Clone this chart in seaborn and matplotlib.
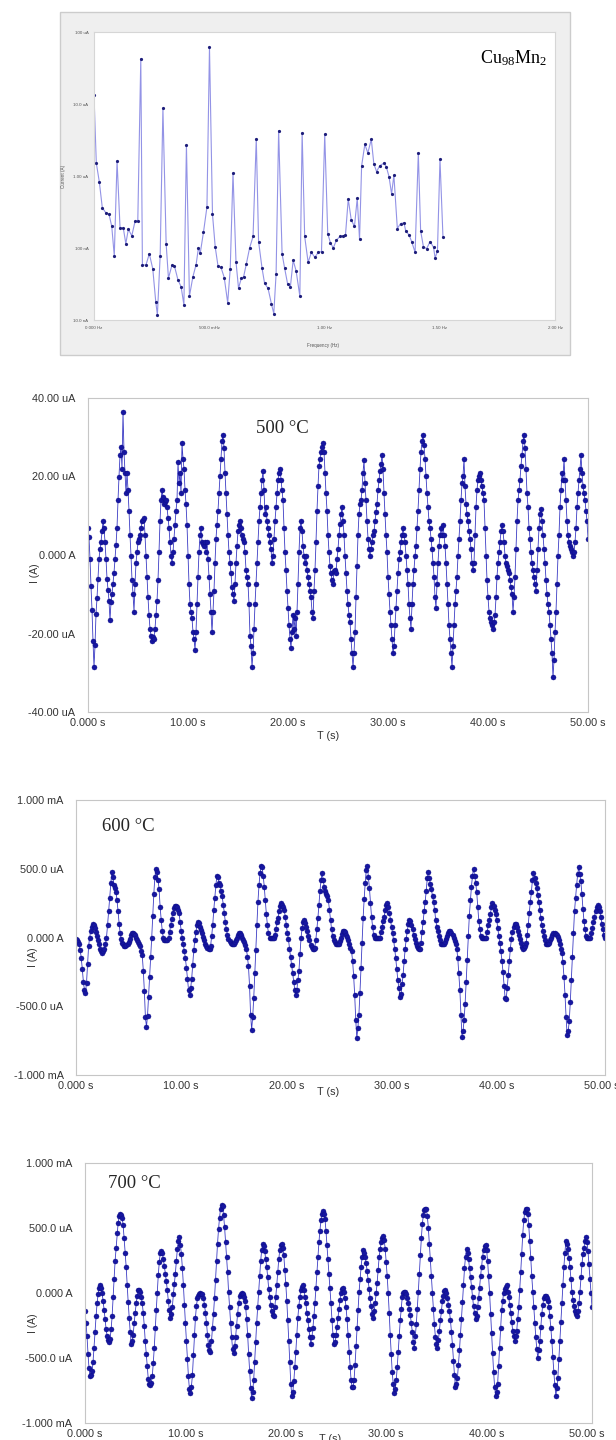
import numpy as np
import matplotlib
matplotlib.use("Agg")
import matplotlib.pyplot as plt
from matplotlib.patches import Rectangle
from matplotlib.ticker import FixedLocator, LogLocator, NullFormatter, MultipleLocator
import seaborn as sns

sns.set_style("white")
plt.rcParams["font.family"] = ["Liberation Sans", "DejaVu Sans"]
plt.rcParams["mathtext.fontset"] = "custom"
plt.rcParams["mathtext.rm"] = "Liberation Serif"
plt.rcParams["mathtext.it"] = "Liberation Serif:italic"

# ---------------- spectrum of the Cu98Mn2 current ----------------
spectrum_freq_hz = [
    0.000, 0.010, 0.023, 0.036, 0.051, 0.065, 0.077, 0.088, 0.100, 0.113,
    0.127, 0.138, 0.149, 0.164, 0.178, 0.190, 0.203, 0.210, 0.225, 0.240,
    0.255, 0.268, 0.275, 0.287, 0.299, 0.313, 0.323, 0.338, 0.349, 0.364,
    0.378, 0.390, 0.401, 0.414, 0.429, 0.443, 0.453, 0.461, 0.475, 0.490,
    0.501, 0.514, 0.526, 0.538, 0.551, 0.565, 0.580, 0.591, 0.603, 0.616,
    0.627, 0.639, 0.649, 0.661, 0.675, 0.690, 0.704, 0.714, 0.729, 0.740,
    0.755, 0.770, 0.780, 0.790, 0.801, 0.816, 0.827, 0.840, 0.852, 0.864,
    0.877, 0.893, 0.903, 0.914, 0.929, 0.943, 0.958, 0.973, 0.987, 1.001,
    1.014, 1.026, 1.038, 1.052, 1.067, 1.080, 1.091, 1.103, 1.116, 1.130,
    1.142, 1.152, 1.161, 1.175, 1.188, 1.203, 1.214, 1.226, 1.239, 1.258,
    1.268, 1.280, 1.291, 1.301, 1.316, 1.330, 1.345, 1.352, 1.367, 1.378,
    1.393, 1.407, 1.417, 1.429, 1.443, 1.458, 1.473, 1.480, 1.490, 1.501, 1.514,
]
# log10 of the current amplitude in amperes
spectrum_log10_amp = [
    -4.875, -5.82, -6.08, -6.44, -6.51, -6.53, -6.70, -7.11, -5.79, -6.72,
    -6.72, -6.94, -6.74, -6.83, -6.63, -6.62, -4.37, -7.23, -7.24, -7.08,
    -7.29, -7.75, -7.93, -7.11, -5.06, -6.94, -7.42, -7.24, -7.25, -7.44,
    -7.54, -7.79, -5.57, -7.67, -7.40, -7.23, -7.00, -7.07, -6.78, -6.43,
    -4.21, -6.53, -6.99, -7.25, -7.27, -7.41, -7.76, -7.29, -5.96, -7.19,
    -7.56, -7.42, -7.40, -7.22, -7.00, -6.84, -5.48, -6.91, -7.28, -7.49,
    -7.56, -7.78, -7.91, -7.36, -5.37, -7.08, -7.28, -7.50, -7.54, -7.17,
    -7.32, -7.67, -5.40, -6.84, -7.20, -7.06, -7.13, -7.06, -7.05, -5.42,
    -6.80, -6.93, -7.00, -6.89, -6.84, -6.83, -6.82, -6.32, -6.61, -6.70,
    -6.31, -6.88, -5.86, -5.56, -5.68, -5.49, -5.83, -5.94, -5.86, -5.82,
    -5.87, -6.01, -6.25, -5.99, -6.73, -6.66, -6.65, -6.76, -6.82, -6.91,
    -7.06, -5.68, -6.76, -6.98, -7.01, -6.91, -6.99, -7.14, -7.04, -5.77, -6.85,
]

# ---------------- current vs time, sampled every 0.1 s ----------------
SAMPLE_PERIOD_S = 0.1

# 500 °C, values in uA
current_500C_uA = [
    6.9, 4.5, -1.0, -8.0, -14.0, -22.0, -28.5, -23.0, -15.0, -11.0,
    -6.0, -1.0, 1.5, 3.3, 6.0, 8.6, 6.9, 3.3, -1.0, -6.0,
    -9.0, -11.7, -16.6, -12.0, -10.0, -7.3, -4.5, -1.0, 2.5, 6.9,
    13.9, 20.0, 25.4, 27.6, 21.9, 36.5, 26.3, 21.0, 15.7, 21.0,
    16.6, 11.3, 5.1, -0.2, -6.4, -9.9, -14.4, -7.3, -2.0, 0.7,
    3.3, 4.2, 5.1, 6.9, 8.6, 9.0, 9.5, 5.1, -0.2, -5.5,
    -10.8, -15.3, -18.8, -20.6, -21.9, -21.0, -21.4, -18.8, -15.3, -11.7,
    -6.4, 0.7, 8.6, 13.9, 16.6, 14.8, 13.0, 13.5, 13.9, 12.2,
    9.5, 6.9, 3.3, -0.2, -2.0, 0.7, 4.2, 7.7, 11.3, 13.9,
    23.7, 18.3, 21.0, 15.7, 28.5, 24.5, 21.9, 16.6, 13.0, 7.7,
    -0.2, -7.3, -12.6, -14.4, -16.1, -19.7, -21.4, -24.1, -19.7, -12.6,
    -5.5, 0.7, 5.1, 6.9, 3.3, 2.8, 2.4, 3.3, 0.7, 3.3,
    -1.1, -5.5, -9.9, -14.4, -19.7, -14.4, -9.1, -2.0, 4.2, 7.7,
    11.3, 15.7, 20.1, 24.5, 29.0, 30.7, 27.2, 21.0, 15.7, 10.4,
    5.1, 0.7, -2.0, -4.6, -8.2, -10.0, -11.7, -7.3, -2.0, 2.4,
    6.0, 7.7, 8.6, 6.9, 5.1, 4.2, 3.3, 0.7, -3.8, -5.5,
    -7.3, -12.6, -20.6, -23.2, -28.5, -25.0, -18.8, -12.6, -7.3, -2.0,
    3.3, 8.6, 12.2, 15.7, 19.2, 21.4, 16.6, 10.4, 12.2, 8.6,
    6.9, 5.1, 3.3, 1.5, -2.0, -0.2, 4.2, 8.6, 12.2, 15.7,
    19.2, 21.0, 21.9, 19.2, 16.6, 13.9, 6.9, 0.7, -3.8, -9.1,
    -13.5, -17.9, -21.4, -23.7, -19.7, -15.3, -18.8, -16.1, -20.6, -14.4,
    -7.3, 0.7, 6.9, 8.6, 6.0, 2.4, -0.2, -2.0, -0.2, -3.8,
    -5.5, -7.3, -9.1, -10.8, -14.4, -16.1, -9.1, -3.8, 3.3, 11.3,
    17.5, 22.8, 24.5, 26.3, 27.6, 28.5, 26.3, 21.0, 15.7, 11.3,
    5.1, 0.7, -2.9, -4.6, -6.4, -7.3, -4.0, -3.8, -4.6, -1.0,
    1.5, 5.0, 8.0, 10.4, 12.2, 8.6, 5.1, -0.2, -4.6, -9.1,
    -12.6, -15.3, -17.0, -21.4, -25.0, -28.5, -25.0, -19.7, -10.8, -2.9,
    5.1, 10.4, 13.0, 13.9, 16.6, 21.0, 24.1, 18.3, 13.9, 8.6,
    4.2, 1.5, -0.2, 1.5, 3.3, 5.1, 6.0, 8.6, 11.0, 13.0,
    16.6, 19.0, 21.5, 23.2, 25.4, 21.9, 15.7, 10.4, 5.1, 0.7,
    -5.5, -9.9, -14.4, -17.9, -21.4, -25.0, -23.2, -17.9, -13.5, -9.1,
    -4.6, -1.1, 0.7, 3.3, 5.1, 6.9, 5.1, 3.3, -0.2, -3.8,
    -7.3, -12.6, -16.1, -18.8, -12.6, -7.3, -3.8, -0.2, 2.4, 6.9,
    11.3, 16.6, 21.9, 26.3, 29.0, 30.7, 28.1, 24.5, 20.1, 15.7,
    12.2, 8.6, 6.9, 4.2, 1.5, -2.0, -5.5, -10.8, -13.5, -7.3,
    -2.0, 2.4, 5.1, 6.9, 5.1, 7.7, 5.1, 2.4, -2.0, -7.3,
    -12.6, -17.9, -21.4, -25.0, -28.5, -23.2, -17.9, -12.6, -9.1, -5.5,
    -0.2, 4.2, 8.6, 13.9, 18.3, 20.1, 24.5, 17.5, 13.0, 10.4,
    8.6, 6.0, 4.2, 1.5, -2.0, -3.8, -2.0, 5.1, 12.2, 16.6,
    19.2, 20.1, 21.0, 19.2, 17.5, 15.7, 13.9, 6.9, -0.2, -6.4,
    -10.8, -14.4, -16.1, -17.0, -17.9, -18.8, -17.0, -15.3, -10.8, -5.5,
    -2.0, 0.7, 3.3, 6.0, 7.7, 6.0, 3.3, -0.2, -2.0, -2.9,
    -3.8, -4.6, -6.4, -8.2, -9.9, -14.4, -10.8, -5.5, 1.5, 8.6,
    13.9, 16.6, 19.2, 22.8, 25.4, 29.0, 30.7, 27.2, 21.9, 15.7,
    12.2, 6.9, 4.2, 0.7, -2.0, -3.8, -5.5, -7.3, -9.1, -3.8,
    1.5, 6.9, 10.4, 11.7, 8.6, 5.1, 1.5, -2.0, -6.4, -9.9,
    -12.6, -14.4, -17.9, -21.4, -25.0, -31.2, -26.7, -19.7, -14.4, -7.3,
    -0.2, 5.1, 12.2, 16.6, 21.0, 19.2, 24.5, 19.2, 13.9, 8.6,
    5.1, 3.3, 2.4, 1.5, 0.7, -0.2, 0.7, 3.3, 6.9, 12.2,
    15.7, 19.2, 21.9, 25.4, 21.0, 17.5, 15.7, 13.9, 11.3, 8.6,
    4.2,
]

# 600 °C, values in uA
current_600C_uA = [
    -10, -20, -30, -50, -90, -150, -230, -320, -380, -400,
    -330, -190, -60, 0, 50, 80, 95, 90, 70, 40,
    10, -20, -50, -80, -100, -110, -100, -80, -50, 0,
    90, 190, 290, 400, 480, 440, 380, 360, 330, 270,
    190, 100, 30, -10, -40, -50, -60, -60, -55, -45,
    -30, -10, 15, 35, 35, 25, 15, 0, -15, -30,
    -45, -65, -95, -130, -240, -390, -580, -650, -570, -430,
    -290, -140, 0, 160, 320, 440, 500, 480, 420, 350,
    220, 130, 50, 0, -15, -20, -20, -15, -5, 40,
    90, 135, 180, 215, 230, 230, 220, 200, 175, 110,
    50, 0, -50, -95, -150, -220, -300, -380, -420, -370,
    -300, -200, -90, -20, 40, 90, 115, 105, 80, 55,
    30, 5, -20, -45, -60, -75, -85, -85, -60, 10,
    90, 200, 290, 380, 450, 440, 400, 380, 340, 300,
    240, 180, 110, 60, 20, -10, -25, -40, -50, -50,
    -45, -30, -20, 0, 20, 35, 35, 20, 0, -20,
    -35, -55, -80, -140, -210, -350, -560, -670, -580, -440,
    -260, -90, 90, 260, 380, 470, 520, 510, 450, 370,
    270, 170, 90, 30, 0, -5, -5, 0, 0, 20,
    60, 110, 140, 190, 230, 250, 240, 220, 200, 150,
    90, 30, -10, -80, -140, -200, -260, -320, -380, -420,
    -380, -310, -240, -120, 0, 70, 115, 125, 105, 75,
    50, 10, -20, -55, -70, -80, -85, -75, -20, 60,
    140, 240, 340, 420, 470, 420, 370, 340, 320, 300,
    270, 200, 130, 60, 10, -15, -35, -45, -50, -50,
    -45, -25, 0, 25, 45, 50, 40, 20, 5, -20,
    -50, -75, -100, -170, -280, -420, -600, -730, -660, -560,
    -400, -220, -40, 140, 280, 400, 490, 520, 440, 360,
    250, 150, 80, 20, 0, -5, -5, -5, -5, 0,
    40, 80, 120, 150, 200, 240, 250, 220, 180, 130,
    80, 30, -20, -80, -150, -230, -310, -370, -430, -410,
    -340, -270, -170, -80, -10, 50, 95, 125, 120, 90,
    60, 20, -10, -40, -60, -75, -80, -85, -40, 40,
    110, 190, 260, 340, 430, 480, 430, 390, 350, 300,
    260, 200, 130, 80, 50, 10, -20, -45, -50, -50,
    -45, -30, -10, 10, 30, 45, 45, 30, 15, 0,
    -25, -50, -80, -150, -260, -380, -560, -720, -680, -600,
    -480, -320, -160, 10, 160, 270, 370, 450, 500, 450,
    400, 330, 220, 120, 60, 10, 0, -5, -5, -5,
    -5, 40, 90, 130, 170, 220, 250, 230, 200, 170,
    130, 70, 10, -40, -100, -170, -250, -350, -440, -450,
    -370, -270, -170, -80, -10, 40, 80, 100, 100, 80,
    50, 20, -10, -40, -70, -85, -75, -60, -40, 20,
    90, 180, 260, 330, 420, 470, 430, 400, 360, 310,
    260, 200, 140, 90, 50, 10, -20, -45, -50, -45,
    -40, -20, 0, 20, 35, 35, 25, 15, 5, -20,
    -50, -80, -110, -180, -290, -420, -580, -710, -680, -610,
    -470, -310, -140, 30, 190, 290, 380, 460, 510, 460,
    410, 320, 210, 120, 60, 10, 0, 0, 0, 0,
    30, 70, 110, 150, 190, 225, 240, 220, 190, 150,
    100, 60, 20, 0,
]

# 700 °C, values in uA
current_700C_uA = [
    -140, -230, -330, -470, -580, -640, -630, -600, -530, -420,
    -300, -180, -80, -10, 40, 60, 40, 0, -60, -130,
    -200, -280, -330, -360, -380, -350, -280, -180, -30, 110,
    250, 350, 460, 540, 590, 610, 600, 580, 520, 420,
    310, 200, 60, -70, -190, -300, -390, -370, -320, -230,
    -150, -80, -20, 20, 20, 10, -30, -80, -150, -250,
    -370, -470, -560, -660, -700, -710, -690, -640, -540, -420,
    -270, -130, 0, 140, 240, 310, 320, 310, 260, 210,
    150, 90, 20, -60, -130, -190, -160, -110, -10, 70,
    150, 250, 340, 400, 430, 370, 300, 190, 60, -90,
    -230, -370, -510, -640, -740, -770, -720, -630, -480, -320,
    -190, -100, -40, -20, -5, 0, -5, -10, -40, -90,
    -150, -230, -320, -400, -440, -450, -370, -270, -160, -40,
    100, 250, 380, 490, 580, 650, 680, 670, 600, 510,
    390, 280, 160, 10, -110, -230, -340, -430, -460, -410,
    -340, -250, -160, -80, -20, -5, 0, -5, -30, -60,
    -110, -200, -320, -470, -600, -730, -810, -760, -670, -530,
    -380, -230, -110, 10, 130, 250, 330, 380, 360, 320,
    260, 200, 120, 30, -30, -90, -140, -170, -180, -110,
    -30, 60, 160, 260, 330, 370, 380, 350, 290, 180,
    70, -60, -210, -370, -530, -700, -790, -760, -680, -570,
    -450, -320, -190, -100, -30, 20, 50, 60, 20, -30,
    -80, -150, -210, -280, -340, -390, -340, -270, -180, -80,
    40, 160, 280, 390, 480, 560, 610, 630, 610, 570,
    480, 370, 260, 150, 40, -80, -210, -320, -390, -380,
    -320, -260, -190, -120, -50, 0, 30, 35, 10, -40,
    -110, -200, -320, -450, -570, -670, -720, -720, -670, -550,
    -410, -270, -130, 10, 110, 200, 280, 330, 310, 280,
    230, 170, 100, 30, -40, -100, -160, -190, -140, -80,
    0, 80, 180, 280, 340, 390, 420, 440, 410, 340,
    240, 130, 0, -150, -320, -470, -610, -700, -770, -740,
    -670, -570, -450, -330, -210, -120, -30, 0, 10, 10,
    -10, -40, -80, -120, -170, -230, -300, -380, -420, -330,
    -240, -120, 10, 150, 290, 420, 530, 600, 640, 650,
    650, 590, 500, 380, 260, 130, 0, -120, -240, -340,
    -390, -420, -360, -290, -210, -140, -60, -20, 15, 25,
    0, -40, -90, -140, -210, -300, -400, -520, -630, -720,
    -700, -650, -550, -440, -320, -200, -70, 60, 190, 280,
    340, 310, 260, 190, 120, 50, -30, -100, -150, -200,
    -180, -110, -40, 40, 130, 200, 280, 330, 360, 370,
    330, 250, 130, 0, -160, -310, -460, -610, -720, -790,
    -760, -700, -560, -420, -270, -130, -60, 0, 30, 50,
    60, 10, -30, -90, -150, -220, -290, -330, -370, -330,
    -290, -200, -110, 20, 160, 300, 450, 560, 620, 650,
    650, 610, 520, 400, 270, 130, 10, -110, -230, -340,
    -430, -500, -440, -370, -260, -160, -90, -40, -25, -25,
    -40, -60, -110, -180, -270, -370, -490, -610, -710, -790,
    -730, -650, -510, -370, -220, -80, 60, 200, 310, 400,
    380, 340, 270, 200, 110, 10, -50, -100, -140, -160,
    -180, -140, -80, 10, 120, 220, 300, 350, 400, 430,
    390, 320, 220, 110, 0, -110,
]

time_tick_values = [0, 10, 20, 30, 40, 50]
time_tick_labels = ["0.000 s", "10.00 s", "20.00 s", "30.00 s", "40.00 s", "50.00 s"]
ua_tick_values = [-40, -20, 0, 20, 40]
ua_tick_labels = ["-40.00 uA", "-20.00 uA", "0.000 A", "20.00 uA", "40.00 uA"]
ma_tick_values = [-1000, -500, 0, 500, 1000]
ma_tick_labels = ["-1.000 mA", "-500.0 uA", "0.000 A", "500.0 uA", "1.000 mA"]
freq_tick_values = [0.0, 0.5, 1.0, 1.5, 2.0]
freq_tick_labels = ["0.000 Hz", "500.0 mHz", "1.00 Hz", "1.50 Hz", "2.00 Hz"]
amp_tick_values = [1e-8, 1e-7, 1e-6, 1e-5, 1e-4]
amp_tick_labels = ["10.0 nA", "100 nA", "1.00 uA", "10.0 uA", "100 uA"]

# ---------------- layout helpers (pixel coordinates, origin top-left) ----------------
W, H = 616, 1440
fig = plt.figure(figsize=(W / 100, H / 100), dpi=100)
fig.patch.set_facecolor("white")


def frame(x0, y0, x1, y1):
    return [x0 / W, 1 - y1 / H, (x1 - x0) / W, (y1 - y0) / H]


def fx(x):
    return x / W


def fy(y):
    return 1 - y / H


TICK_GRAY = "#b8b8b8"
LABEL_GRAY = "#333333"
SERIF = ["Liberation Serif", "DejaVu Serif"]

# ---------------- panel 1: spectrum ----------------
fig.patches.append(Rectangle((fx(60), fy(355)), (570 - 60) / W, (355 - 12) / H,
                             transform=fig.transFigure, facecolor="#efefef",
                             edgecolor="#cccccc", linewidth=1.0, zorder=-10))
ax1 = fig.add_axes(frame(94, 32, 555, 320))
ax1.set_zorder(2)
ax1.set_facecolor("white")
sns.lineplot(x=spectrum_freq_hz, y=10.0 ** np.array(spectrum_log10_amp), ax=ax1,
             estimator=None, sort=False, color="#9393e6", linewidth=0.8,
             marker="o", markersize=2.3, markerfacecolor="#1d1d7a",
             markeredgecolor="#1d1d7a", markeredgewidth=0)
ax1.set_yscale("log")
ax1.set_xlim(0, 2.0)
ax1.set_ylim(1e-8, 1e-4)
ax1.set_xticks(freq_tick_values, freq_tick_labels)
ax1.set_yticks(amp_tick_values, amp_tick_labels)
ax1.xaxis.set_minor_locator(FixedLocator([0.2 * i for i in range(11)]))
ax1.yaxis.set_minor_locator(LogLocator(base=10, subs=(2, 3, 4, 5, 6, 7, 8, 9)))
ax1.yaxis.set_minor_formatter(NullFormatter())
ax1.tick_params(which="major", length=0, labelsize=3.2, labelcolor="#555555", pad=4)
ax1.tick_params(which="minor", length=2, width=0.5, color="#a8a8a8", direction="out")
ax1.set_xlabel("")
ax1.set_ylabel("")
for s in ax1.spines.values():
    s.set_color("#d6d6d6")
    s.set_linewidth(0.8)
fig.text(fx(323), fy(346), "Frequency (Hz)", ha="center", va="center",
         fontsize=3.3, color="#555555")
fig.text(fx(64), fy(176), "Current (A)", ha="center", va="center",
         rotation=90, fontsize=3.3, color="#555555")
fig.text(fx(480), fy(58), r"Cu$_{98}$Mn$_{2}$", ha="left", va="center",
         fontsize=13, family=SERIF, color="black", zorder=5)


# ---------------- panels 2-4: current vs time ----------------
def time_panel(ax, values, ylim, yticks, ylabels, yminor, xmax):
    t = np.arange(len(values)) * SAMPLE_PERIOD_S
    sns.lineplot(x=t, y=values, ax=ax, estimator=None, sort=False,
                 color="#3b3bc4", linewidth=0.6, marker="o", markersize=3.6,
                 markerfacecolor="#1616a0", markeredgecolor="#0c0c85",
                 markeredgewidth=0.3)
    ax.set_xlim(0, xmax)
    ax.set_ylim(*ylim)
    ax.set_xticks(time_tick_values, time_tick_labels)
    ax.set_yticks(yticks, ylabels)
    ax.xaxis.set_minor_locator(MultipleLocator(2))
    ax.yaxis.set_minor_locator(MultipleLocator(yminor))
    ax.tick_params(which="major", direction="out", length=3, width=0.6,
                   color=TICK_GRAY, labelsize=7.8, labelcolor=LABEL_GRAY)
    ax.tick_params(axis="y", which="major", pad=6)
    ax.tick_params(axis="x", which="major", pad=1)
    ax.tick_params(which="minor", direction="out", length=2, width=0.5, color=TICK_GRAY)
    ax.set_xlabel("")
    ax.set_ylabel("")
    for s in ax.spines.values():
        s.set_color("#c6c6c6")
        s.set_linewidth(0.8)


ax2 = fig.add_axes(frame(88, 398, 588, 712))
time_panel(ax2, current_500C_uA, (-40, 40), ua_tick_values, ua_tick_labels, 5, 50.0)
fig.text(fx(282), fy(428), "500 °C", ha="center", va="center", fontsize=13.5, family=SERIF)
fig.text(fx(35), fy(573), "I (A)", ha="center", va="center", rotation=90,
         fontsize=7.5, color=LABEL_GRAY)
fig.text(fx(328), fy(736), "T (s)", ha="center", va="center", fontsize=7.8, color=LABEL_GRAY)

ax3 = fig.add_axes(frame(76, 800, 605, 1075))
time_panel(ax3, current_600C_uA, (-1000, 1000), ma_tick_values, ma_tick_labels, 100, 50.3)
fig.text(fx(128), fy(827), "600 °C", ha="center", va="center", fontsize=13.5, family=SERIF)
fig.text(fx(33), fy(957), "I (A)", ha="center", va="center", rotation=90,
         fontsize=7.5, color=LABEL_GRAY)
fig.text(fx(328), fy(1092), "T (s)", ha="center", va="center", fontsize=7.8, color=LABEL_GRAY)

ax4 = fig.add_axes(frame(85, 1163, 592, 1423))
time_panel(ax4, current_700C_uA, (-1000, 1000), ma_tick_values, ma_tick_labels, 100, 50.5)
fig.text(fx(134), fy(1183), "700 °C", ha="center", va="center", fontsize=13.5, family=SERIF)
fig.text(fx(33), fy(1323), "I (A)", ha="center", va="center", rotation=90,
         fontsize=7.5, color=LABEL_GRAY)
fig.text(fx(330), fy(1439), "T (s)", ha="center", va="center", fontsize=7.8, color=LABEL_GRAY)

fig.savefig("out.png", dpi=100, facecolor="white")
